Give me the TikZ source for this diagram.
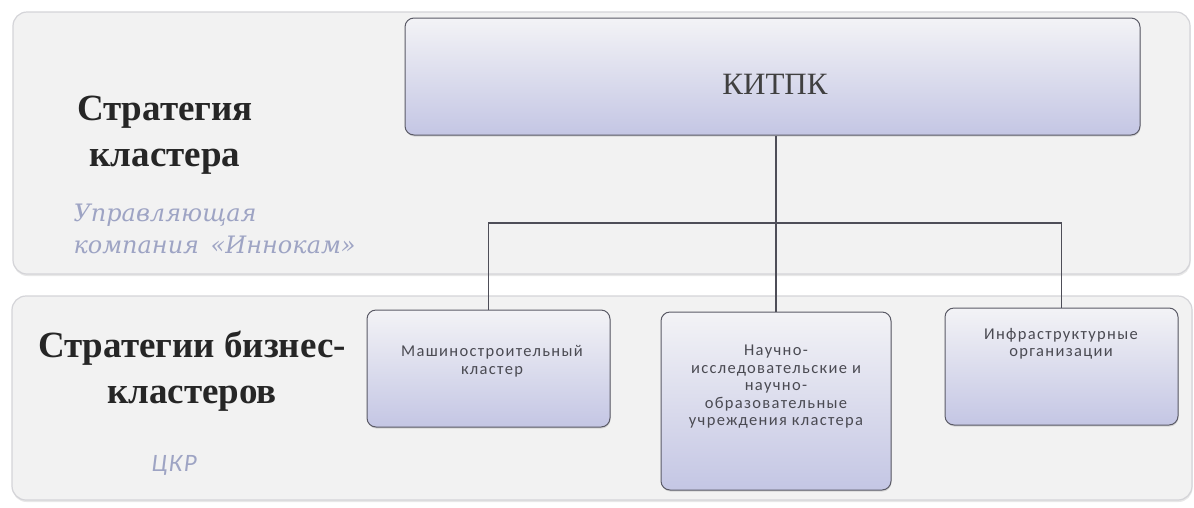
\documentclass[tikz,border=0pt]{standalone}
\usepackage{fontspec}
\setmainfont{Liberation Serif}
\newfontfamily\boxfont{Carlito}
\newfontfamily\rolefont{DejaVu Serif}
\usetikzlibrary{shadows}
\definecolor{bandfill}{HTML}{F2F2F2}
\definecolor{bandedge}{HTML}{D4D4D8}
\definecolor{boxedge}{HTML}{5A5A66}
\definecolor{boxtop}{HTML}{F3F3F6}
\definecolor{boxbottom}{HTML}{C4C6E4}
\definecolor{wire}{HTML}{4E4E58}
\definecolor{subtext}{HTML}{9EA4C4}
\definecolor{boxtext}{HTML}{4A4A52}
\tikzset{
  band/.style={draw=bandedge, fill=bandfill, line width=1.2pt, rounded corners=14pt,
    drop shadow={opacity=0.18, shadow xshift=0.5pt, shadow yshift=-2pt}},
  unitbox/.style={draw=boxedge, line width=1pt, rounded corners=9pt,
    top color=boxtop, bottom color=boxbottom, inner sep=0pt,
    drop shadow={opacity=0.25, shadow xshift=0.5pt, shadow yshift=-1.5pt}},
  headtext/.style={font=\bfseries\fontsize{37}{46}\selectfont, align=center, text=black!85},
  roletext/.style={font=\rolefont\itshape\fontsize{24}{32}\selectfont, align=left, text=subtext},
  unittext/.style={font=\boxfont\fontsize{16.5}{17.5}\selectfont\addfontfeature{LetterSpace=8}, align=center, text=boxtext},
  wireline/.style={draw=wire, line width=1.6pt}
}
\begin{document}
\begin{tikzpicture}[x=1pt,y=-1pt]
\useasboundingbox (0,0) rectangle (1194,507);
\fill[white] (0,0) rectangle (1194,507);

% two strategy bands
\path[band] (13,12) rectangle (1190,274);
\path[band] (12,296) rectangle (1192,500);

% band captions
\node[headtext] (capA) at (165,135) {Стратегия\\кластера};
\node[roletext, anchor=west] (roleA) at (70,229) {Управляющая\\компания \,«Иннокам»};
\node[headtext] (capB) at (192,371) {Стратегии бизнес-\\кластеров};
\node[font=\boxfont\itshape\fontsize{25}{30}\selectfont\addfontfeature{LetterSpace=6}, text=subtext] (roleB) at (174,465) {ЦКР};

% organisation boxes
\node[unitbox, minimum width=735pt, minimum height=117pt] (top) at (772.5,76.5) {};
\node[font=\fontsize{31}{36}\selectfont, text=black!75] (topt) at (775,84) {КИТПК};

\node[unitbox, minimum width=243pt, minimum height=117pt] (mach) at (488.5,368.5) {};
\node[unittext] (macht) at (492,361) {Машиностроительный\\кластер};

\node[unitbox, minimum width=230pt, minimum height=178pt] (sci) at (776,401) {};
\node[unittext] (scit) at (776,387) {Научно-\\исследовательские и\\научно-\\образовательные\\учреждения кластера};

\node[unitbox, minimum width=233pt, minimum height=117pt] (infra) at (1061.5,366.5) {};
\node[unittext] (infrat) at (1061,344) {Инфраструктурные\\организации};

% connectors
\coordinate (bus) at (776,223);
\draw[wireline] (top.south -| sci.north) -- (bus);
\draw[wireline] (mach.north) |- (bus) -| (infra.north);
\draw[wireline] (sci.north) -- (bus);
\end{tikzpicture}
\end{document}
